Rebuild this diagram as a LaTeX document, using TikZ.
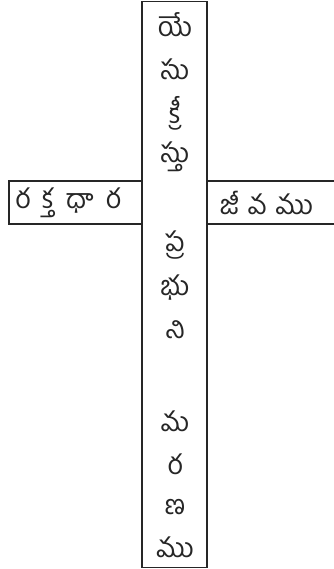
\documentclass[tikz,border=0pt]{standalone}
\usepackage{fontspec}
\newfontfamily\telugu[Script=Telugu]{Hind Guntur}
\newcommand{\gapl}{\hspace{12pt}}
\newcommand{\gapr}{\hspace{9pt}}
\begin{document}
\begin{tikzpicture}[x=1pt,y=-1pt,
  boxline/.style={draw=black!85,line width=1.8pt,inner sep=0pt,outer sep=0pt,rectangle,anchor=north west},
  letter/.style={font=\telugu\fontsize{27}{27}\selectfont,inner sep=0pt,text=black!85}]
\useasboundingbox (0,0) rectangle (333,569);
\node[boxline,minimum width=133pt,minimum height=43pt] (lbox) at (9,181) {};
\node[boxline,minimum width=140pt,minimum height=43pt] (rbox) at (207,181) {};
\node[boxline,fill=white,minimum width=65pt,minimum height=566pt] (vbar) at (142,1.5) {};
\node[letter] (l1) at (175,25) {యే};
\node[letter] (l2) at (175,69) {సు};
\node[letter] (l3) at (175,113) {క్రీ};
\node[letter] (l4) at (175,157) {స్తు};
\node[letter] (l5) at (175,245) {ప్ర};
\node[letter] (l6) at (175,288) {భు};
\node[letter] (l7) at (175,330) {ని};
\node[letter] (l8) at (175,421) {మ};
\node[letter] (l9) at (175,464) {ర};
\node[letter] (l10) at (175,507) {ణ};
\node[letter] (l11) at (175,547) {ము};
\node[letter] (ltext) at (68,203) {ర\gapl క్త\gapl ధా\gapl ర};
\node[letter] (rtext) at (266.5,203) {జీ\gapr వ\gapr ము};
\end{tikzpicture}
\end{document}
